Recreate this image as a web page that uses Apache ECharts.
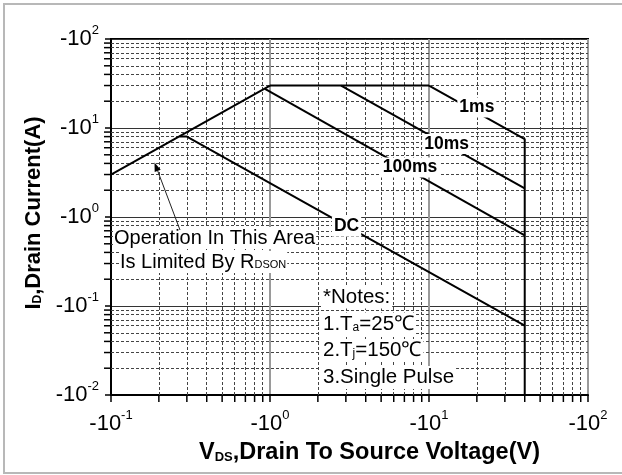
<!DOCTYPE html>
<html>
<head>
<meta charset="utf-8">
<script src="https://cdn.jsdelivr.net/npm/echarts@6/dist/echarts.min.js"></script>
<style>
html,body{margin:0;padding:0;background:#fff;}
#chart{width:622px;height:475px;}
</style>
</head>
<body>
<div id="chart"></div>
<script>
// ---- Data (V in volts, I in amperes; axes show them as negative magnitudes) ----
const rdsonLimit = [[0.1, 3.0], [1.0, 30]];
const currentLimit = [[1.0, 30], [10, 30]];
const pulse1ms = [[10, 30], [40, 7.5], [40, 0.01]];
const pulse10ms = [[2.8, 30], [40, 2.1]];
const pulse100ms = [[0.93, 27.5], [40, 0.62]];
const dcLine = [[0.27, 8.0], [0.3, 8.0], [40, 0.06]];
const curveLabels = [[20, 17, '1ms'], [12.9, 6.6, '10ms'], [7.6, 3.6, '100ms'], [3.03, 0.78, 'DC']];
const xDecades = [0.1, 1, 10];
const yDecades = [0.01, 0.1, 1, 10];
const minorMultipliers = [2, 3, 4, 5, 6, 7, 8, 9];
const xRange = [0.1, 100];
const yRange = [0.01, 100];

const FONT = "'Liberation Sans', Arial, sans-serif";

const xMinor = [];
xDecades.forEach(d => minorMultipliers.forEach(m => xMinor.push(+(d * m).toPrecision(6))));
const yMinor = [];
yDecades.forEach(d => minorMultipliers.forEach(m => yMinor.push(+(d * m).toPrecision(6))));

function tickFmt(v) {
  const n = Math.round(Math.log10(v));
  return '{m|-10}{s|' + n + '}';
}
const tickRich = {
  m: {fontSize: 22, fontFamily: FONT, color: '#000'},
  s: {fontSize: 13, fontFamily: FONT, color: '#000', padding: [0, 0, 17, 0]}
};

const curveStyle = {color: '#000', width: 2};
function curve(name, data) {
  return {
    name: name, type: 'line', data: data, symbol: 'none', z: 5,
    lineStyle: curveStyle, silent: true, animation: false
  };
}

const chart = echarts.init(document.getElementById('chart'), null, {renderer: 'canvas'});
chart.setOption({
  animation: false,
  backgroundColor: '#fff',
  grid: {left: 111, right: 34, top: 39, bottom: 80, show: true, borderColor: '#000', borderWidth: 2, backgroundColor: 'transparent'},
  xAxis: {
    type: 'log', logBase: 10, min: xRange[0], max: xRange[1],
    axisLine: {show: true, onZero: false, lineStyle: {color: '#000', width: 2}},
    axisTick: {show: true, inside: false, length: 7, lineStyle: {color: '#000', width: 1.5}},
    splitLine: {show: true, lineStyle: {color: '#9a9a9a', width: 2}},
    axisLabel: {formatter: tickFmt, rich: tickRich, margin: 14},
    name: '{m|V}{sub|DS}{m|,Drain To Source Voltage(V)}',
    nameLocation: 'middle', nameGap: 46,
    nameTextStyle: {
      padding: [0, 0, 0, 40],
      rich: {
        m: {fontSize: 23.5, fontWeight: 'bold', fontFamily: FONT, color: '#000'},
        sub: {fontSize: 13, fontWeight: 'bold', fontFamily: FONT, color: '#000', padding: [8, 0, 0, 0]}
      }
    }
  },
  yAxis: {
    type: 'log', logBase: 10, min: yRange[0], max: yRange[1],
    axisLine: {show: true, onZero: false, lineStyle: {color: '#000', width: 2}},
    axisTick: {show: true, inside: false, length: 6, lineStyle: {color: '#000', width: 1.5}},
    splitLine: {show: true, lineStyle: {color: '#333', width: 1}},
    axisLabel: {formatter: tickFmt, rich: tickRich, margin: 12},
    name: '{m|I}{sub|D}{m|,Drain Current(A)}',
    nameLocation: 'middle', nameGap: 57,
    nameTextStyle: {
      padding: [0, 0, 0, 8],
      rich: {
        m: {fontSize: 22, fontWeight: 'bold', fontFamily: FONT, color: '#000'},
        sub: {fontSize: 12, fontWeight: 'bold', fontFamily: FONT, color: '#000', padding: [8, 0, 0, 0]}
      }
    }
  },
  series: [
    {
      name: 'minorGrid', type: 'line', data: [], silent: true, z: 2,
      markLine: {
        silent: true, symbol: 'none', animation: false,
        label: {show: false},
        lineStyle: {color: '#444', width: 1, type: [3, 2]},
        data: xMinor.map(v => ({xAxis: v})).concat(yMinor.map(v => ({yAxis: v})))
      }
    },
    {
      name: 'xMinorTicks', type: 'scatter', clip: false, silent: true, z: 4,
      data: xMinor.map(v => [v, yRange[0]]),
      symbol: 'rect', symbolSize: [1.5, 6], symbolOffset: [0, 4],
      itemStyle: {color: '#000', opacity: 1}
    },
    {
      name: 'yMinorTicks', type: 'scatter', clip: false, silent: true, z: 4,
      data: yMinor.map(v => [xRange[0], v]),
      symbol: 'rect', symbolSize: [6, 1.5], symbolOffset: [-4, 0],
      itemStyle: {color: '#000', opacity: 1}
    },
    curve('RDS(on) limit', rdsonLimit),
    curve('Current limit', currentLimit),
    curve('1ms', pulse1ms),
    curve('10ms', pulse10ms),
    curve('100ms', pulse100ms),
    curve('DC', dcLine),
    {
      name: 'curveLabels', type: 'scatter', silent: true, z: 6,
      data: curveLabels, symbolSize: 0,
      itemStyle: {opacity: 1, color: '#000'},
      label: {
        show: true, position: 'inside', opacity: 1,
        formatter: p => p.value[2],
        fontSize: 17.5, fontWeight: 'bold', fontFamily: FONT, color: '#000',
        backgroundColor: '#fff', padding: [1, 2]
      }
    }
  ],
  graphic: [
    {type: 'rect', z: 100, silent: true, shape: {x: 4, y: 4, width: 700, height: 469},
     style: {fill: 'none', stroke: '#b8b8b8', lineWidth: 2}},
    {type: 'text', z: 100, x: 113, y: 238, silent: true,
     style: {text: 'Operation In This Area', font: '20px ' + FONT, fill: '#000', verticalAlign: 'middle',
             backgroundColor: '#fff', padding: [1, 1]}},
    {type: 'text', z: 100, x: 119, y: 262, silent: true,
     style: {text: '{m|Is Limited By R}{sub|DSON}', verticalAlign: 'middle', backgroundColor: '#fff', padding: [1, 1],
             rich: {m: {fontSize: 20, fontFamily: FONT, fill: '#000', color: '#000'},
                    sub: {fontSize: 11, fontFamily: FONT, color: '#223', padding: [6, 0, 0, 0]}}}},
    {type: 'line', z: 100, silent: true, shape: {x1: 180, y1: 230, x2: 157.7, y2: 170.9},
     style: {stroke: '#222', lineWidth: 1}},
    {type: 'polygon', z: 100, silent: true, shape: {points: [[154.5, 162.5], [160.7, 169.8], [154.7, 172.1]]},
     style: {fill: '#000'}},
    {type: 'text', z: 100, x: 321, y: 297, silent: true,
     style: {text: '*Notes:', font: '20.5px ' + FONT, fill: '#000', verticalAlign: 'middle', backgroundColor: '#fff', padding: [1, 2]}},
    {type: 'text', z: 100, x: 321, y: 324, silent: true,
     style: {text: '{m|1.T}{sub|a}{m|=25℃}', verticalAlign: 'middle', backgroundColor: '#fff', padding: [1, 2],
             rich: {m: {fontSize: 20.5, fontFamily: FONT, color: '#000'},
                    sub: {fontSize: 12, fontFamily: FONT, color: '#333', padding: [7, 0, 0, 0]}}}},
    {type: 'text', z: 100, x: 321, y: 350.5, silent: true,
     style: {text: '{m|2.T}{sub|j}{m|=150℃}', verticalAlign: 'middle', backgroundColor: '#fff', padding: [1, 2],
             rich: {m: {fontSize: 20.5, fontFamily: FONT, color: '#000'},
                    sub: {fontSize: 12, fontFamily: FONT, color: '#333', padding: [7, 0, 0, 0]}}}},
    {type: 'text', z: 100, x: 321, y: 377.5, silent: true,
     style: {text: '3.Single Pulse', font: '20.5px ' + FONT, fill: '#000', verticalAlign: 'middle', backgroundColor: '#fff', padding: [1, 2]}}
  ]
});
</script>
</body>
</html>
